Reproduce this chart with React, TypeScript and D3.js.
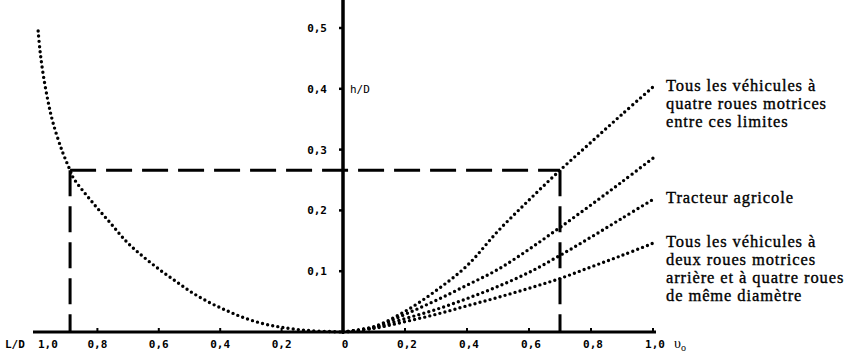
import React, { useEffect, useRef } from "react";
import * as d3 from "d3";

// left half: h/D as a function of L/D
const ldCurve: [number, number][] = [
  [0.993, 0.495], [0.987, 0.463], [0.977, 0.425], [0.961, 0.38], [0.945, 0.345],
  [0.915, 0.298], [0.889, 0.266], [0.879, 0.254], [0.814, 0.212], [0.759, 0.18],
  [0.704, 0.148], [0.651, 0.124], [0.596, 0.102], [0.541, 0.082], [0.489, 0.064],
  [0.433, 0.048], [0.378, 0.035], [0.326, 0.024], [0.27, 0.015], [0.215, 0.009],
  [0.163, 0.005], [0.1, 0.002], [0, 0],
];

// right half: h/D against v0, four curves
const nuValues = [0, 0.1, 0.2, 0.3, 0.4, 0.5, 0.6, 0.7, 0.8, 0.9, 1.0];
const upperLimit = [0, 0.009, 0.034, 0.068, 0.109, 0.166, 0.217, 0.266, 0.312, 0.358, 0.403];
const secondCurve = [0, 0.008, 0.029, 0.052, 0.077, 0.103, 0.136, 0.172, 0.209, 0.247, 0.286];
const tractor = [0, 0.007, 0.022, 0.037, 0.055, 0.075, 0.098, 0.126, 0.156, 0.187, 0.218];
const lowerLimit = [0, 0.006, 0.017, 0.029, 0.043, 0.057, 0.072, 0.088, 0.107, 0.126, 0.146];

const hTicks = [0.1, 0.2, 0.3, 0.4, 0.5];
const ldTicks = [1.0, 0.8, 0.6, 0.4, 0.2];
const nuTicks = [0.2, 0.4, 0.6, 0.8, 1.0];

const readLevel = 0.266;
const readLD = 0.889;
const readNu = 0.7;

const labels: { h: number; lines: string[] }[] = [
  { h: 0.403, lines: ["Tous les véhicules à", "quatre roues motrices", "entre ces limites"] },
  { h: 0.218, lines: ["Tracteur agricole"] },
  { h: 0.146, lines: ["Tous les véhicules à", "deux roues motrices", "arrière et à quatre roues", "de même diamètre"] },
];

const fmt = (v: number) => (v === 0 ? "0" : v.toFixed(1).replace(".", ","));

export default function App() {
  const ref = useRef<SVGSVGElement>(null);

  useEffect(() => {
    const width = 859;
    const height = 361;
    const svg = d3.select(ref.current).attr("width", width).attr("height", height);
    svg.selectAll("*").remove();

    const x0 = 343;
    const xL = d3.scaleLinear().domain([0, 1]).range([x0, 36]);
    const xR = d3.scaleLinear().domain([0, 1]).range([x0, 653]);
    const y = d3.scaleLinear().domain([0, 0.5]).range([332, 28]);

    const mono = "'DejaVu Sans Mono', monospace";
    const serif = "'Liberation Serif', serif";

    // axes
    svg.append("line").attr("x1", 33).attr("x2", 656).attr("y1", y(0)).attr("y2", y(0))
      .attr("stroke", "#000").attr("stroke-width", 3);
    svg.append("line").attr("x1", x0).attr("x2", x0).attr("y1", 0).attr("y2", y(0))
      .attr("stroke", "#000").attr("stroke-width", 3.5);

    // ticks
    svg.selectAll("line.ht").data(hTicks).enter().append("line")
      .attr("x1", x0 - 4).attr("x2", x0).attr("y1", d => y(d)).attr("y2", d => y(d))
      .attr("stroke", "#000").attr("stroke-width", 2.5);
    svg.selectAll("line.lt").data(ldTicks.slice(1)).enter().append("line")
      .attr("x1", d => xL(d)).attr("x2", d => xL(d)).attr("y1", y(0) - 4).attr("y2", y(0))
      .attr("stroke", "#000").attr("stroke-width", 2);
    svg.selectAll("line.nt").data(nuTicks).enter().append("line")
      .attr("x1", d => xR(d)).attr("x2", d => xR(d)).attr("y1", y(0) - 4).attr("y2", y(0))
      .attr("stroke", "#000").attr("stroke-width", 2);

    // tick labels
    svg.selectAll("text.hl").data(hTicks).enter().append("text")
      .attr("x", x0 - 16).attr("y", d => y(d) + 4).attr("text-anchor", "end")
      .attr("font-family", mono).attr("font-weight", "bold").attr("font-size", 11)
      .text(d => fmt(d));
    svg.selectAll("text.ll").data(ldTicks).enter().append("text")
      .attr("x", d => (d === 1 ? xL(d) + 2 : xL(d)))
      .attr("y", 348)
      .attr("text-anchor", d => (d === 1 ? "start" : "middle"))
      .attr("font-family", mono).attr("font-weight", "bold").attr("font-size", 11)
      .text(d => fmt(d));
    svg.selectAll("text.nl").data([0, ...nuTicks]).enter().append("text")
      .attr("x", d => xR(d) + 2).attr("y", 348).attr("text-anchor", "middle")
      .attr("font-family", mono).attr("font-weight", "bold").attr("font-size", 11)
      .text(d => fmt(d));

    svg.append("text").attr("x", 5).attr("y", 348)
      .attr("font-family", mono).attr("font-weight", "bold").attr("font-size", 11)
      .text("L/D");
    svg.append("text").attr("x", x0 + 7).attr("y", y(0.4) + 4)
      .attr("font-family", mono).attr("font-size", 11)
      .text("h/D");
    const nuT = svg.append("text").attr("x", 674).attr("y", 348)
      .attr("font-family", serif).attr("font-size", 14);
    nuT.append("tspan").text("υ");
    nuT.append("tspan").attr("font-size", 10).attr("dy", 3).text("o");

    // dashed reading lines
    const dash = "26 10";
    const dashed = (x1: number, y1: number, x2: number, y2: number) =>
      svg.append("line").attr("x1", x1).attr("y1", y1).attr("x2", x2).attr("y2", y2)
        .attr("stroke", "#000").attr("stroke-width", 3).attr("stroke-dasharray", dash);
    dashed(xL(readLD), y(readLevel), xR(readNu), y(readLevel));
    dashed(xL(readLD), y(readLevel), xL(readLD), y(0));
    dashed(xR(readNu), y(readLevel), xR(readNu), y(0));

    // dotted curves
    const dotted = (pts: [number, number][]) =>
      svg.append("path")
        .attr("d", d3.line().curve(d3.curveCatmullRom)(pts))
        .attr("fill", "none").attr("stroke", "#000").attr("stroke-width", 3.4)
        .attr("stroke-linecap", "round").attr("stroke-dasharray", "0 5.2");

    dotted(ldCurve.map(([l, h]) => [xL(l), y(h)] as [number, number]));
    [upperLimit, secondCurve, tractor, lowerLimit].forEach(series => {
      dotted(series.map((h, i) => [xR(nuValues[i]), y(h)] as [number, number]));
    });

    // curve labels
    labels.forEach(lb => {
      const t = svg.append("text").attr("x", 666).attr("y", y(lb.h) + 4)
        .attr("font-family", serif).attr("font-size", 16.5).attr("letter-spacing", 0.9)
        .attr("stroke", "#000").attr("stroke-width", 0.35);
      lb.lines.forEach((ln, i) => {
        t.append("tspan").attr("x", 666).attr("dy", i === 0 ? 0 : 18).text(ln);
      });
    });
  }, []);

  return (
    <div style={{ position: "absolute", left: 0, top: 0, width: 859, height: 361, background: "#fff" }}>
      <svg ref={ref} style={{ display: "block" }}></svg>
    </div>
  );
}
